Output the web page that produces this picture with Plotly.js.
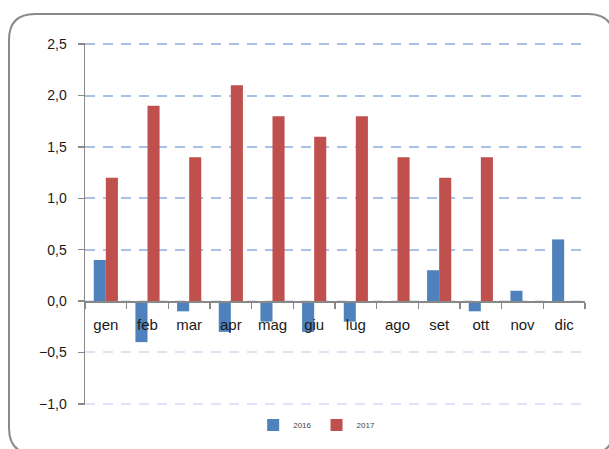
<!DOCTYPE html>
<html>
<head>
<meta charset="utf-8">
<script src="https://cdn.plot.ly/plotly-3.0.1.min.js"></script>
<style>
html,body{margin:0;padding:0;background:#fff;}
#chart{width:609px;height:449px;}
</style>
</head>
<body>
<div id="chart"></div>
<script>
var months = ["gen","feb","mar","apr","mag","giu","lug","ago","set","ott","nov","dic"];
var values2016 = [0.4,-0.4,-0.1,-0.3,-0.2,-0.3,-0.2,0,0.3,-0.1,0.1,0.6];
var values2017 = [1.2,1.9,1.4,2.1,1.8,1.6,1.8,1.4,1.2,1.4,null,null];
var yTicks = [-1,-0.5,0,0.5,1,1.5,2,2.5];
var yTicksUpper = [0.5,1,1.5,2,2.5];
var yRange = [-1.012, 2.512];

var W = 609, H = 449;
var m = {l:85, r:24, t:43, b:44};
var pw = W - m.l - m.r, ph = H - m.t - m.b;
function px(x){ return (x - m.l)/pw; }
function py(y){ return (H - m.b - y)/ph; }
// rounded frame path in paper coords
var x0 = 9, y0 = 14, x1 = 614, y1 = 454, r = 26;
function P(x,y){ return px(x).toFixed(5)+','+py(y).toFixed(5); }
var framePath = 'M'+P(x0, y0+r)+' Q'+P(x0,y0)+' '+P(x0+r,y0)+' L'+P(x1-r,y0)+' Q'+P(x1,y0)+' '+P(x1,y0+r)+
  ' L'+P(x1,y1-r)+' Q'+P(x1,y1)+' '+P(x1-r,y1)+' L'+P(x0+r,y1)+' Q'+P(x0,y1)+' '+P(x0,y1-r)+' Z';

var traces = [
  {type:'bar', name:'2016', x:months, y:values2016, marker:{color:'#4f81bd'}},
  {type:'bar', name:'2017', x:months, y:values2017, marker:{color:'#c0504d'}},
  {type:'scatter', mode:'lines', x:months, y:values2016.map(function(){return null;}), yaxis:'y2', showlegend:false, hoverinfo:'skip'}
];

var layout = {
  width: W, height: H,
  margin: m,
  paper_bgcolor:'#fff', plot_bgcolor:'rgba(0,0,0,0)',
  font:{family:'Liberation Sans, Arial, sans-serif', color:'#222'},
  separators: ',.',
  barmode:'group', bargap:0.42, bargroupgap:0,
  showlegend:true,
  legend:{orientation:'h', xref:'container', x:0.52, xanchor:'center',
          yref:'container', y:0.086, yanchor:'top',
          font:{size:8, color:'#444'}, itemwidth:30,
          traceorder:'normal', tracegroupgap:0,
          bgcolor:'rgba(0,0,0,0)'},
  xaxis:{
    type:'category', range:[-0.5,11.5], autorange:false, anchor:'free',
    position:(0 - yRange[0])/(yRange[1]-yRange[0]),
    showline:true, linecolor:'#888', linewidth:1.5,
    ticks:'outside', tickson:'boundaries', ticklen:6, tickcolor:'#888', tickwidth:1.5,
    showgrid:false, tickfont:{size:15, color:'#1a1a1a'}, ticklabelstandoff:9
  },
  yaxis:{
    range:yRange, autorange:false, tickvals:yTicks, tickformat:'.1f',
    showline:true, linecolor:'#888', linewidth:1.5,
    ticks:'outside', ticklen:6, tickcolor:'#888', tickwidth:1.5,
    showgrid:true, gridcolor:'#dde5f4', gridwidth:2, griddash:'10px,8px',
    zeroline:false, tickfont:{size:14, color:'#1a1a1a'}, ticklabelstandoff:8
  },
  yaxis2:{
    range:yRange, autorange:false, overlaying:'y', tickvals:yTicksUpper, showticklabels:false,
    showgrid:true, gridcolor:'#a9c0e8', gridwidth:2, griddash:'10px,8px',
    zeroline:false, showline:false, ticks:''
  },
  shapes:[{type:'path', xref:'paper', yref:'paper', path:framePath,
           line:{color:'#8a8a8a', width:2}, fillcolor:'rgba(0,0,0,0)', layer:'below'}]
};

Plotly.newPlot('chart', traces, layout, {staticPlot:true, displayModeBar:false});
</script>
</body>
</html>
